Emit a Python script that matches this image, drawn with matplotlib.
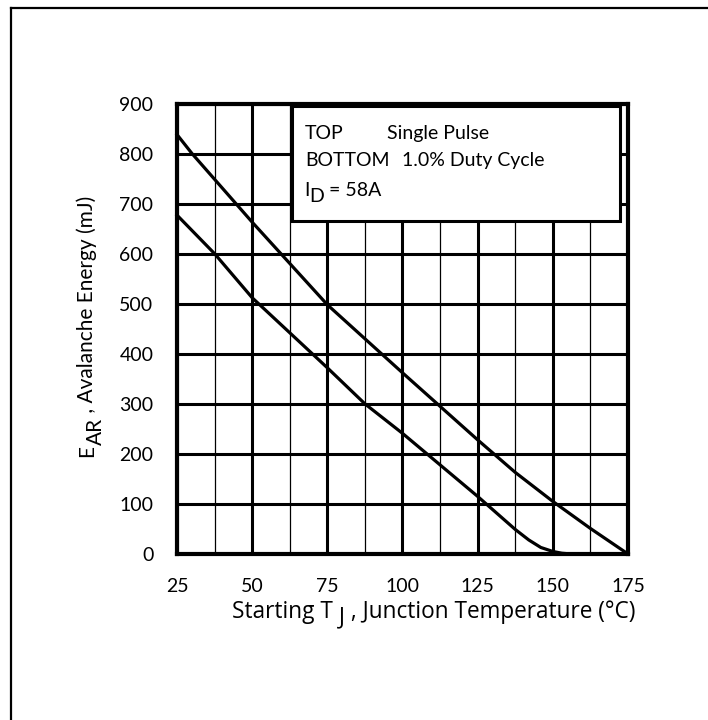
"""Avalanche energy vs starting junction temperature (datasheet style)."""
import matplotlib

matplotlib.use("Agg")
import matplotlib.pyplot as plt
from matplotlib.lines import Line2D
from matplotlib.patches import Rectangle

plt.rcParams["font.family"] = ["Lato", "DejaVu Sans"]

W, H = 708, 720

# TOP: single pulse
tj_single = [25, 30, 50, 75, 100, 125, 137.5, 150, 162.5, 175]
e_single = [838, 800, 663, 498, 362, 228, 163, 105, 51, 0]
# BOTTOM: 1.0% duty cycle
tj_duty = [25, 37.5, 50, 75, 87.5, 100, 112.5, 125, 137.5, 142, 146, 150, 153, 156, 175]
e_duty = [677, 600, 512, 372, 300, 241, 178, 115, 49, 28, 13, 5, 1.5, 0, 0]

x_major = [25, 50, 75, 100, 125, 150, 175]
x_minor = [37.5, 62.5, 87.5, 112.5, 137.5, 162.5]
y_major = list(range(0, 901, 100))


def runs(fig, x0, y0, parts, size, rotation=0, family=None):
    """Write text pieces one after another (pixel coords, y up); drop lowers a piece."""
    r = fig.canvas.get_renderer()
    pos = 0.0
    for s, drop in parts:
        if rotation == 0:
            px, py = x0 + pos, y0 - drop
        else:
            px, py = x0 + drop, y0 + pos
        t = fig.text(px / W, py / H, s, fontsize=size, rotation=rotation,
                     rotation_mode="anchor", ha="left", va="baseline", zorder=6)
        if family:
            t.set_family(family)
        bb = t.get_window_extent(r)
        pos += bb.width if rotation == 0 else bb.height


fig = plt.figure(figsize=(W / 100, H / 100), dpi=100)
ax = fig.add_axes([0.25, 0.2306, 0.637, 0.6256])

ax.plot(tj_single, e_single, color="black", lw=2.3, zorder=3, clip_on=False)
ax.plot(tj_duty, e_duty, color="black", lw=2.3, zorder=3, clip_on=False)

ax.set_xlim(25, 175)
ax.set_ylim(0, 900)
ax.set_xticks(x_major)
ax.set_xticks(x_minor, minor=True)
ax.set_yticks(y_major)
ax.grid(which="major", color="black", lw=2.2, zorder=1)
ax.grid(which="minor", axis="x", color="black", lw=0.9, zorder=1)
ax.set_axisbelow(True)
ax.tick_params(which="both", length=0, labelsize=14)
ax.tick_params(axis="x", pad=17)
ax.tick_params(axis="y", pad=17)
for sp in ax.spines.values():
    sp.set_linewidth(3)

# axis titles with full-size lowered subscripts
runs(fig, 232, H - 618, [("Starting T", 0), (" J", 5),
                         (" , Junction Temperature (°C)", 0)], 16.3,
     family=["Open Sans", "DejaVu Sans"])
runs(fig, 93, H - 457, [("E", 0), ("AR", 9),
                        (" , Avalanche Energy (mJ)", 0)], 15, rotation=90)

# legend box
ax.add_patch(Rectangle((63.3, 666), 109, 230, facecolor="white",
                       edgecolor="black", lw=2.2, zorder=4))
ax.text(67.5, 840, "TOP", fontsize=14, va="center", zorder=5)
ax.text(95, 840, "Single Pulse", fontsize=14, va="center", zorder=5)
ax.text(67.5, 786, "BOTTOM", fontsize=14, va="center", zorder=5)
ax.text(100, 786, "1.0% Duty Cycle", fontsize=14, va="center", zorder=5)
runs(fig, 304, H - 196, [("I", 0), ("D", 6), (" = 58A", 0)], 14)

# page frame (left and top edges)
fig.add_artist(Line2D([11 / W, 11 / W], [0, 1 - 8 / H], color="black",
                      lw=1.6, transform=fig.transFigure))
fig.add_artist(Line2D([11 / W, 1], [1 - 8 / H, 1 - 8 / H], color="black",
                      lw=1.6, transform=fig.transFigure))

fig.savefig("out.png", dpi=100)
